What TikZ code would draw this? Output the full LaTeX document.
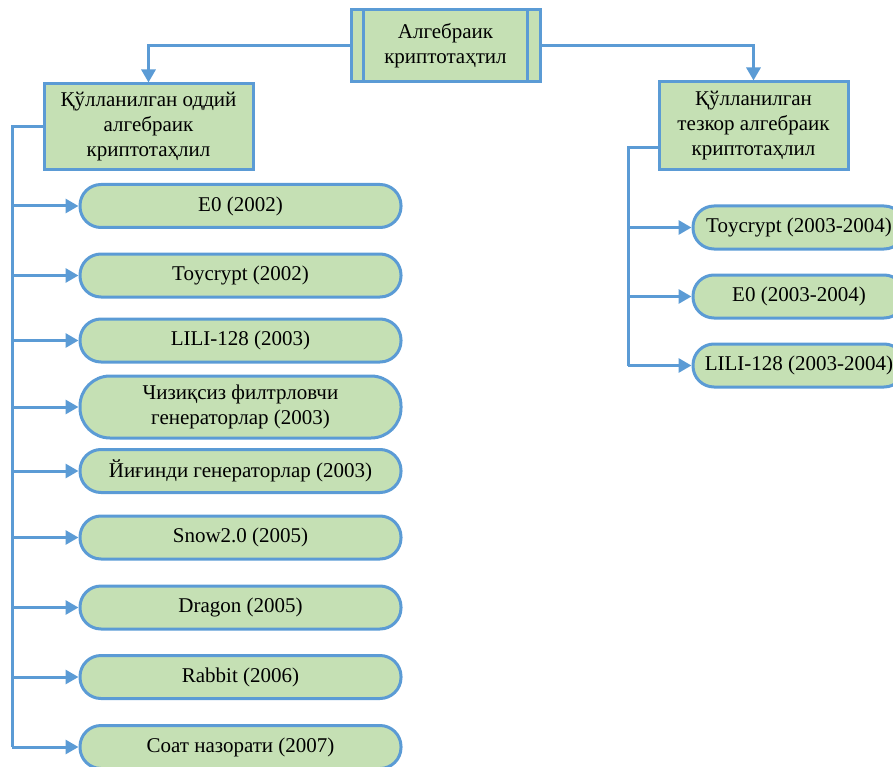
\documentclass[tikz,border=0pt]{standalone}
\usepackage{fontspec}
\setmainfont{Liberation Serif}
\usetikzlibrary{arrows.meta}
\definecolor{lblue}{HTML}{5B9BD5}
\definecolor{lgreen}{HTML}{C5E0B4}
\begin{document}
\begin{tikzpicture}[x=1pt,y=-1pt,
  every node/.style={font=\fontsize{21pt}{25pt}\selectfont, text=black, align=center, inner sep=0pt},
  boxst/.style={draw=lblue, line width=3pt, fill=lgreen},
  pill/.style={boxst, rounded corners=21pt, minimum height=43pt},
  conn/.style={draw=lblue, line width=3pt},
  arr/.style={conn, -{Triangle[length=13pt,width=14pt]}}
]
\useasboundingbox (0,0) rectangle (893,767);

% top predefined process
\node[boxst, minimum width=189pt, minimum height=72pt] (top) at (445.5,46) {Алгебраик\\криптотаҳтил};
\draw[conn] ([xshift=14pt]top.north west) -- ([xshift=14pt]top.south west);
\draw[conn] ([xshift=-14pt]top.north east) -- ([xshift=-14pt]top.south east);

% second level
\node[boxst, minimum width=209pt, minimum height=86pt] (L) at (148.5,127) {Қўлланилган оддий\\алгебраик\\криптотаҳлил};
\node[boxst, minimum width=189pt, minimum height=88pt] (R) at (753.5,126) {Қўлланилган\\тезкор алгебраик\\криптотаҳлил};

\draw[arr] (top.west) -| (L.north);
\draw[arr] (top.east) -| (R.north);

% left pills
\node[pill, minimum width=321pt] (p1) at (240.5,206) {E0 (2002)};
\node[pill, minimum width=321pt] (p2) at (240.5,275.5) {Toycrypt (2002)};
\node[pill, minimum width=321pt] (p3) at (240.5,340.5) {LILI-128 (2003)};
\node[pill, minimum width=321pt, minimum height=62pt, rounded corners=30pt] (p4) at (240.5,407) {Чизиқсиз филтрловчи\\генераторлар (2003)};
\node[pill, minimum width=321pt] (p5) at (240.5,471) {Йиғинди генераторлар (2003)};
\node[pill, minimum width=321pt] (p6) at (240.5,537.5) {Snow2.0 (2005)};
\node[pill, minimum width=321pt] (p7) at (240.5,607.5) {Dragon (2005)};
\node[pill, minimum width=321pt] (p8) at (240.5,677) {Rabbit (2006)};
\node[pill, minimum width=321pt] (p9) at (240.5,747) {Соат назорати (2007)};

\coordinate (lt) at (12,127);
\draw[conn] (L.west) -- (lt) -- (lt |- p9.west);
\foreach \p in {p1,p2,p3,p4,p5,p6,p7,p8,p9}
  \draw[arr] (lt |- \p.west) -- (\p.west);

% right pills
\node[pill, minimum width=212pt] (q1) at (799,227.5) {Toycrypt (2003-2004)};
\node[pill, minimum width=212pt] (q2) at (799,296.5) {E0 (2003-2004)};
\node[pill, minimum width=212pt] (q3) at (799,365.5) {LILI-128 (2003-2004)};

\coordinate (rt) at (628,148);
\draw[conn] (rt -| R.west) -- (rt) -- (rt |- q3.west);
\foreach \q in {q1,q2,q3}
  \draw[arr] (rt |- \q.west) -- (\q.west);
\end{tikzpicture}
\end{document}
